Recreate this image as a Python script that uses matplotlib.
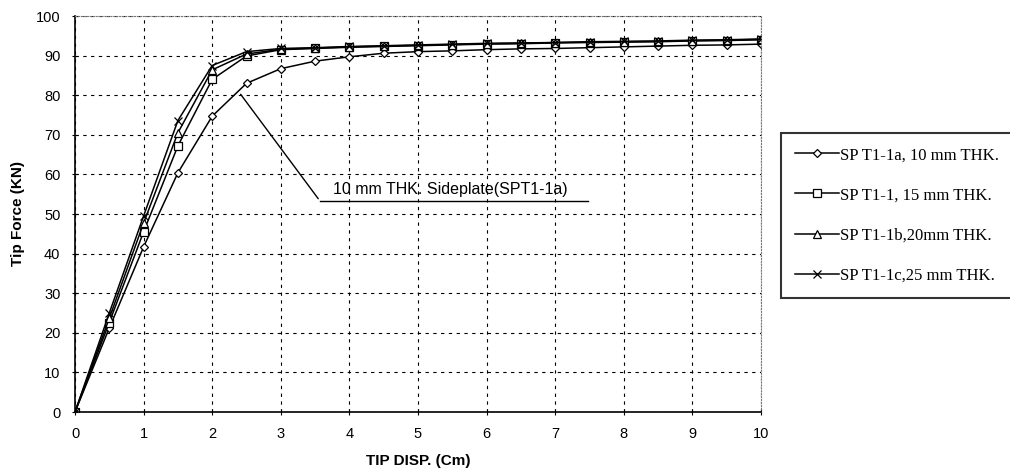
import matplotlib
matplotlib.use('Agg')
from matplotlib import pyplot as plt

# Tip displacement (cm) and tip force (kN) for the four sideplate thicknesses
disp = [0, 0.5, 1, 1.5, 2, 2.5, 3, 3.5, 4, 4.5, 5, 5.5, 6, 6.5, 7, 7.5, 8, 8.5, 9, 9.5, 10]
force_10mm = [0, 21.2, 41.7, 60.4, 74.7, 83.0, 86.7, 88.6, 89.7, 90.6, 91.0, 91.2, 91.5,
              91.7, 91.8, 92.0, 92.2, 92.4, 92.6, 92.7, 92.9]
force_15mm = [0, 22.6, 45.5, 67.2, 84.0, 89.9, 91.5, 91.8, 92.1, 92.3, 92.5, 92.7, 92.9,
              93.0, 93.2, 93.3, 93.4, 93.5, 93.7, 93.8, 94.0]
force_20mm = [0, 23.7, 47.7, 70.5, 86.4, 90.4, 91.6, 91.9, 92.2, 92.4, 92.6, 92.8, 93.0,
              93.1, 93.3, 93.4, 93.5, 93.6, 93.8, 93.9, 94.1]
force_25mm = [0, 25.0, 49.5, 73.6, 87.5, 91.0, 91.8, 92.0, 92.3, 92.5, 92.7, 92.9, 93.1,
              93.2, 93.3, 93.5, 93.6, 93.7, 93.9, 94.0, 94.2]
labels = ['SP T1-1a, 10 mm THK.', 'SP T1-1, 15 mm THK.',
          'SP T1-1b,20mm THK.', 'SP T1-1c,25 mm THK.']

fig = plt.figure(figsize=(10.1, 4.72), dpi=100)
ax = fig.add_axes([75 / 1010, 60 / 472, 686 / 1010, 396 / 472])

style = dict(color='black', lw=1.1, mfc='white', mec='black', mew=0.9)
ax.plot(disp, force_10mm, marker='D', ms=4, label=labels[0], **style)
ax.plot(disp, force_15mm, marker='s', ms=5.5, label=labels[1], **style)
ax.plot(disp, force_20mm, marker='^', ms=5.5, label=labels[2], **style)
ax.plot(disp, force_25mm, marker='x', ms=5.5, label=labels[3], **style)

ax.set_xlim(0, 10)
ax.set_ylim(0, 100)
ax.set_xticks(range(0, 11))
ax.set_yticks(range(0, 101, 10))
ax.grid(True, color='black', linestyle=(0, (3, 4)), lw=0.8)
for side in ['top', 'right']:
    ax.spines[side].set_color('#777777')
    ax.spines[side].set_linestyle(':')
ax.spines['left'].set_linewidth(1.2)
ax.spines['bottom'].set_linewidth(1.2)
ax.tick_params(direction='inout', length=5, labelsize=10.5, pad=8)
for t in ax.get_xticklabels() + ax.get_yticklabels():
    t.set_family('Liberation Sans')

ax.set_xlabel('TIP DISP. (Cm)', fontsize=11, fontweight='bold',
              family='Liberation Sans', labelpad=10)
ax.set_ylabel('Tip Force (KN)', fontsize=11, fontweight='bold',
              family='Liberation Sans', labelpad=8)

# Annotation for the 10 mm curve
ax.annotate('', xy=(2.39, 80.8), xytext=(3.57, 53.3),
            arrowprops=dict(arrowstyle='-', color='black', lw=1))
ax.plot([3.57, 7.48], [53.3, 53.3], color='black', lw=1)
ax.text(3.76, 54.3, '10 mm THK. Sideplate(SPT1-1a)', fontsize=11.5,
        family='Liberation Sans', va='bottom')

leg = fig.legend(loc='upper left', bbox_to_anchor=(781 / 1010, 1 - 133 / 472),
                 prop={'family': 'Liberation Serif', 'size': 12},
                 frameon=True, fancybox=False, labelspacing=1.45,
                 handlelength=2.6, handletextpad=0.1, borderpad=0.85,
                 borderaxespad=0)
leg.get_frame().set_edgecolor('black')
leg.get_frame().set_linewidth(1.5)

fig.savefig('out.png', dpi=100)
